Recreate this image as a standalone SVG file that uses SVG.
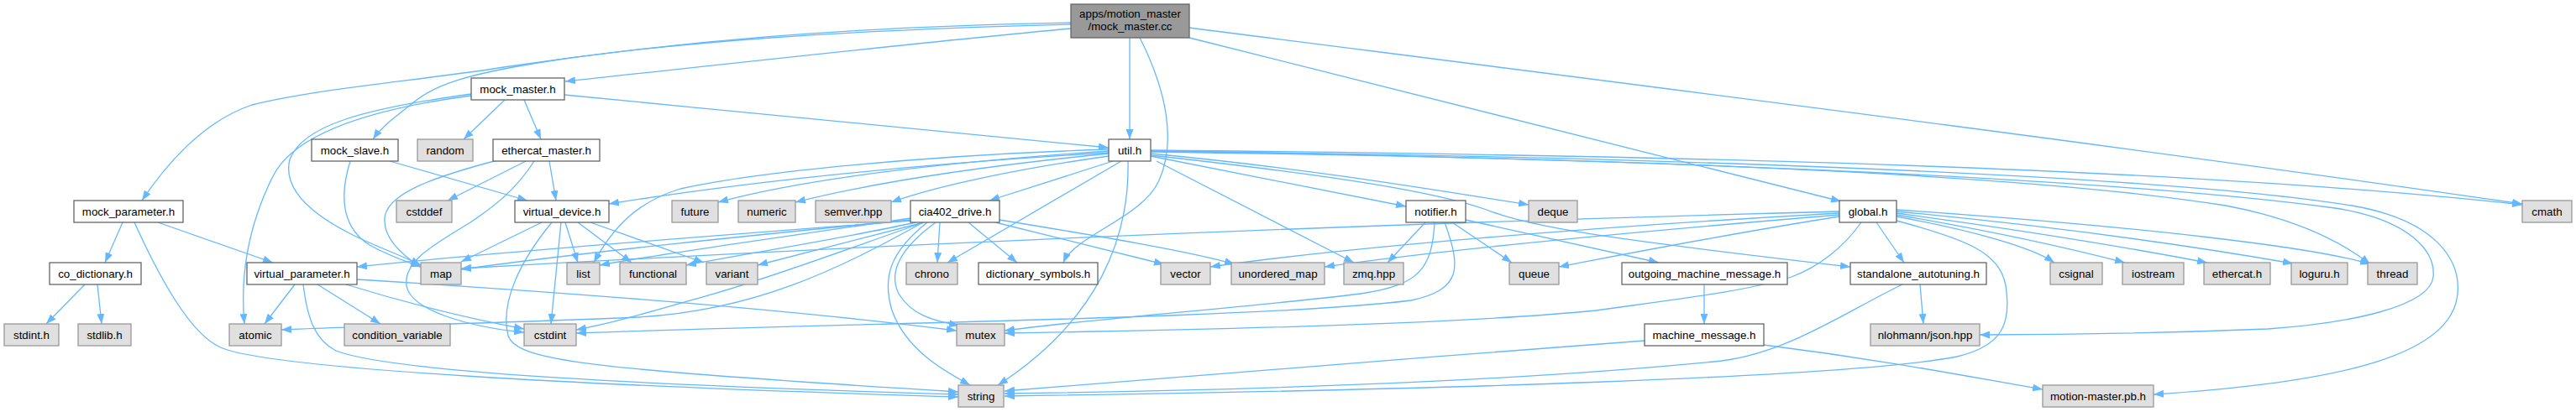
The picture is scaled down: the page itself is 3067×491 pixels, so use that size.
<svg xmlns="http://www.w3.org/2000/svg" width="3067" height="491" viewBox="0 0 3067 491">
<style>
.e{fill:none;stroke:#63b8ff;stroke-width:1.3}
.n rect{fill:#ffffff;stroke:#666666;stroke-width:1.3}
.g rect{fill:#e0e0e0;stroke:#999999;stroke-width:1.3}
.r rect{fill:#999999;stroke:#666666;stroke-width:1.3}
text{font-family:"Liberation Sans",Arial,Helvetica,sans-serif;font-size:13.33px;fill:#000000;text-anchor:middle}
</style>
<defs>
<marker id="a" markerWidth="12" markerHeight="9" refX="12" refY="4.5" orient="auto" markerUnits="userSpaceOnUse">
<path d="M0,0L12,4.5L0,9z" fill="#63b8ff"/>
</marker>
</defs>
<rect width="3067" height="491" fill="#ffffff"/>
<g id="connectors">
<path class="e" marker-end="url(#a)" d="M1275,34 C1100,50 850,78 673,97"/>
<path class="e" marker-end="url(#a)" d="M1275,27 C1000,32 800,50 600,80 C500,96 380,105 300,125 C240,145 195,200 169,239"/>
<path class="e" marker-end="url(#a)" d="M1275,29 C1000,36 800,50 640,75 C560,88 520,100 495,120 C470,140 455,150 444,166"/>
<path class="e" marker-end="url(#a)" d="M1345,45 L1345,166"/>
<path class="e" marker-end="url(#a)" d="M1357,45 C1390,110 1400,170 1380,215 C1360,260 1280,280 1266,313"/>
<path class="e" marker-end="url(#a)" d="M1416,45 C1700,115 1950,178 2192,240"/>
<path class="e" marker-end="url(#a)" d="M1416,33 C1900,95 2500,170 3003,243"/>
<path class="e" marker-end="url(#a)" d="M601,119 L552,166"/>
<path class="e" marker-end="url(#a)" d="M624,119 L644,166"/>
<path class="e" marker-end="url(#a)" d="M672,113 C900,135 1150,160 1320,176"/>
<path class="e" marker-end="url(#a)" d="M561,112 C430,130 360,150 345,190 C335,230 380,260 420,280 C450,295 480,305 501,316"/>
<path class="e" marker-end="url(#a)" d="M561,114 C440,130 350,160 325,210 C300,260 285,320 291,386"/>
<path class="e" marker-end="url(#a)" d="M417,192 C405,230 405,270 440,292 C465,306 485,312 501,318"/>
<path class="e" marker-end="url(#a)" d="M464,192 L628,239"/>
<path class="e" marker-end="url(#a)" d="M626,192 L533,239"/>
<path class="e" marker-end="url(#a)" d="M654,192 L662,239"/>
<path class="e" marker-end="url(#a)" d="M592,191 C520,210 460,230 458,260 C456,285 480,305 502,319"/>
<path class="e" marker-end="url(#a)" d="M636,192 C615,225 590,245 560,265 C520,290 480,310 484,340 C488,370 560,390 624,396"/>
<path class="e" marker-end="url(#a)" d="M146,265 L125,313"/>
<path class="e" marker-end="url(#a)" d="M188,265 L325,313"/>
<path class="e" marker-end="url(#a)" d="M160,265 C185,320 225,400 265,415 C330,440 700,460 1141,473"/>
<path class="e" marker-end="url(#a)" d="M101,339 L55,386"/>
<path class="e" marker-end="url(#a)" d="M116,339 L121,386"/>
<path class="e" marker-end="url(#a)" d="M351,339 L315,386"/>
<path class="e" marker-end="url(#a)" d="M378,339 L453,386"/>
<path class="e" marker-end="url(#a)" d="M412,339 C480,360 560,380 624,392"/>
<path class="e" marker-end="url(#a)" d="M425,333 C700,350 950,370 1139,394"/>
<path class="e" marker-end="url(#a)" d="M361,339 C366,380 375,405 400,418 C470,445 800,460 1141,470"/>
<path class="e" marker-end="url(#a)" d="M645,265 L549,312"/>
<path class="e" marker-end="url(#a)" d="M673,265 L688,313"/>
<path class="e" marker-end="url(#a)" d="M688,265 L752,313"/>
<path class="e" marker-end="url(#a)" d="M703,265 L838,313"/>
<path class="e" marker-end="url(#a)" d="M668,265 L656,386"/>
<path class="e" marker-end="url(#a)" d="M657,265 C620,310 595,360 605,400 C615,430 700,440 1141,467"/>
<path class="e" marker-end="url(#a)" d="M1320,182 C1100,195 900,215 725,243"/>
<path class="e" marker-end="url(#a)" d="M1320,180 C1100,195 950,215 855,241"/>
<path class="e" marker-end="url(#a)" d="M1320,183 C1150,200 1030,220 947,241"/>
<path class="e" marker-end="url(#a)" d="M1320,186 C1220,200 1120,220 1061,241"/>
<path class="e" marker-end="url(#a)" d="M1325,192 L1178,239"/>
<path class="e" marker-end="url(#a)" d="M1320,178 C1100,185 900,205 810,225 C760,240 730,270 707,313"/>
<path class="e" marker-end="url(#a)" d="M1335,192 L1128,313"/>
<path class="e" marker-end="url(#a)" d="M1343,192 C1345,280 1310,380 1188,459"/>
<path class="e" marker-end="url(#a)" d="M1377,192 L1612,313"/>
<path class="e" marker-end="url(#a)" d="M1370,186 L1674,246"/>
<path class="e" marker-end="url(#a)" d="M1370,183 C1550,200 1700,225 1820,244"/>
<path class="e" marker-end="url(#a)" d="M1370,185 C1550,205 1700,225 1770,250 C1820,270 1900,283 2203,318"/>
<path class="e" marker-end="url(#a)" d="M1370,179 C2000,185 2600,200 3003,244"/>
<path class="e" marker-end="url(#a)" d="M1370,181 C1900,188 2400,205 2650,245 C2740,262 2790,290 2822,315"/>
<path class="e" marker-end="url(#a)" d="M1370,180 C1900,188 2500,210 2780,248 C2870,262 2900,300 2897,330 C2893,365 2800,385 2700,392 C2550,398 2420,399 2357,399"/>
<path class="e" marker-end="url(#a)" d="M1370,180 C1900,186 2550,205 2800,245 C2900,262 2930,310 2926,350 C2920,420 2800,455 2564,470"/>
<path class="e" marker-end="url(#a)" d="M1084,260 C950,280 800,300 714,316"/>
<path class="e" marker-end="url(#a)" d="M1090,265 C1000,285 900,300 817,316"/>
<path class="e" marker-end="url(#a)" d="M1100,265 L902,316"/>
<path class="e" marker-end="url(#a)" d="M1084,262 C900,280 700,300 549,321"/>
<path class="e" marker-end="url(#a)" d="M1084,263 C800,285 600,300 425,318"/>
<path class="e" marker-end="url(#a)" d="M1099,265 C1000,320 900,370 760,378 C600,385 450,388 335,393"/>
<path class="e" marker-end="url(#a)" d="M1100,265 C1000,300 920,330 850,350 C780,370 730,385 686,393"/>
<path class="e" marker-end="url(#a)" d="M1114,265 C1080,290 1055,320 1070,350 C1085,375 1110,382 1142,388"/>
<path class="e" marker-end="url(#a)" d="M1104,265 C1060,300 1050,330 1062,370 C1080,420 1130,445 1155,459"/>
<path class="e" marker-end="url(#a)" d="M1119,265 L1116,313"/>
<path class="e" marker-end="url(#a)" d="M1153,265 L1211,313"/>
<path class="e" marker-end="url(#a)" d="M1185,265 L1386,315"/>
<path class="e" marker-end="url(#a)" d="M1190,262 C1300,280 1420,300 1470,315"/>
<path class="e" marker-end="url(#a)" d="M1697,265 L1652,313"/>
<path class="e" marker-end="url(#a)" d="M1729,265 L1800,313"/>
<path class="e" marker-end="url(#a)" d="M1745,262 L1975,313"/>
<path class="e" marker-end="url(#a)" d="M1708,265 C1705,320 1690,340 1620,350 C1500,365 1300,380 1196,394"/>
<path class="e" marker-end="url(#a)" d="M1720,265 C1740,320 1740,345 1680,358 C1500,380 1000,385 686,397"/>
<path class="e" marker-end="url(#a)" d="M2190,252 C1500,270 900,300 549,320"/>
<path class="e" marker-end="url(#a)" d="M2190,254 C1900,270 1600,295 1441,318"/>
<path class="e" marker-end="url(#a)" d="M2190,256 C1900,280 1700,300 1577,318"/>
<path class="e" marker-end="url(#a)" d="M2190,258 C2050,280 1950,300 1856,318"/>
<path class="e" marker-end="url(#a)" d="M2216,265 C2195,295 2165,318 2133,330 C2080,347 2000,356 1900,370 C1750,385 1450,393 1196,397"/>
<path class="e" marker-end="url(#a)" d="M2234,265 L2267,313"/>
<path class="e" marker-end="url(#a)" d="M2258,258 C2350,275 2420,295 2446,313"/>
<path class="e" marker-end="url(#a)" d="M2258,256 C2400,280 2480,300 2530,313"/>
<path class="e" marker-end="url(#a)" d="M2258,254 C2450,280 2560,300 2628,313"/>
<path class="e" marker-end="url(#a)" d="M2258,252 C2500,275 2650,300 2730,314"/>
<path class="e" marker-end="url(#a)" d="M2258,250 C2550,270 2760,295 2822,315"/>
<path class="e" marker-end="url(#a)" d="M2258,263 C2340,285 2380,300 2388,340 C2395,385 2385,412 2330,425 C2200,450 1700,465 1196,472"/>
<path class="e" marker-end="url(#a)" d="M2286,339 L2290,386"/>
<path class="e" marker-end="url(#a)" d="M2265,339 C2200,370 2130,420 2050,430 C1800,455 1500,465 1196,469"/>
<path class="e" marker-end="url(#a)" d="M2029,339 L2029,386"/>
<path class="e" marker-end="url(#a)" d="M1958,406 C1700,425 1400,450 1196,466"/>
<path class="e" marker-end="url(#a)" d="M2100,411 C2250,430 2350,450 2432,464"/>
</g>
<g id="n_mock_master_cc" class="r"><rect x="1275" y="5" width="141" height="40"/><text x="1345.5" y="21">apps/motion_master</text><text x="1345.5" y="36">/mock_master.cc</text></g>
<g id="n_mock_master_h" class="n"><rect x="561" y="93" width="111" height="26"/><text x="616.5" y="110.5">mock_master.h</text></g>
<g id="n_mock_slave_h" class="n"><rect x="371" y="166" width="103" height="26"/><text x="422.5" y="183.5">mock_slave.h</text></g>
<g id="n_random" class="g"><rect x="497" y="166" width="66" height="26"/><text x="530" y="183.5">random</text></g>
<g id="n_ethercat_master_h" class="n"><rect x="587" y="166" width="127" height="26"/><text x="650.5" y="183.5">ethercat_master.h</text></g>
<g id="n_util_h" class="n"><rect x="1320" y="166" width="50" height="26"/><text x="1345" y="183.5">util.h</text></g>
<g id="n_mock_parameter_h" class="n"><rect x="88" y="239" width="130" height="26"/><text x="153" y="256.5">mock_parameter.h</text></g>
<g id="n_cstddef" class="g"><rect x="472" y="239" width="66" height="26"/><text x="505" y="256.5">cstddef</text></g>
<g id="n_virtual_device_h" class="n"><rect x="613" y="239" width="112" height="26"/><text x="669" y="256.5">virtual_device.h</text></g>
<g id="n_future" class="g"><rect x="800" y="239" width="55" height="26"/><text x="827.5" y="256.5">future</text></g>
<g id="n_numeric" class="g"><rect x="879" y="239" width="68" height="26"/><text x="913" y="256.5">numeric</text></g>
<g id="n_semver_hpp" class="g"><rect x="971" y="239" width="90" height="26"/><text x="1016" y="256.5">semver.hpp</text></g>
<g id="n_cia402_drive_h" class="n"><rect x="1084" y="239" width="106" height="26"/><text x="1137" y="256.5">cia402_drive.h</text></g>
<g id="n_notifier_h" class="n"><rect x="1674" y="239" width="71" height="26"/><text x="1709.5" y="256.5">notifier.h</text></g>
<g id="n_deque" class="g"><rect x="1820" y="239" width="58" height="26"/><text x="1849" y="256.5">deque</text></g>
<g id="n_global_h" class="n"><rect x="2190" y="239" width="68" height="26"/><text x="2224" y="256.5">global.h</text></g>
<g id="n_cmath" class="g"><rect x="3003" y="239" width="59" height="26"/><text x="3032.5" y="256.5">cmath</text></g>
<g id="n_co_dictionary_h" class="n"><rect x="59" y="313" width="109" height="26"/><text x="113.5" y="330.5">co_dictionary.h</text></g>
<g id="n_virtual_parameter_h" class="n"><rect x="294" y="313" width="131" height="26"/><text x="359.5" y="330.5">virtual_parameter.h</text></g>
<g id="n_map" class="g"><rect x="501" y="313" width="48" height="26"/><text x="525" y="330.5">map</text></g>
<g id="n_list" class="g"><rect x="675" y="313" width="39" height="26"/><text x="694.5" y="330.5">list</text></g>
<g id="n_functional" class="g"><rect x="738" y="313" width="79" height="26"/><text x="777.5" y="330.5">functional</text></g>
<g id="n_variant" class="g"><rect x="841" y="313" width="61" height="26"/><text x="871.5" y="330.5">variant</text></g>
<g id="n_chrono" class="g"><rect x="1079" y="313" width="61" height="26"/><text x="1109.5" y="330.5">chrono</text></g>
<g id="n_dictionary_symbols_h" class="n"><rect x="1165" y="313" width="142" height="26"/><text x="1236" y="330.5">dictionary_symbols.h</text></g>
<g id="n_vector" class="g"><rect x="1382" y="313" width="59" height="26"/><text x="1411.5" y="330.5">vector</text></g>
<g id="n_unordered_map" class="g"><rect x="1466" y="313" width="111" height="26"/><text x="1521.5" y="330.5">unordered_map</text></g>
<g id="n_zmq_hpp" class="g"><rect x="1600" y="313" width="71" height="26"/><text x="1635.5" y="330.5">zmq.hpp</text></g>
<g id="n_queue" class="g"><rect x="1797" y="313" width="59" height="26"/><text x="1826.5" y="330.5">queue</text></g>
<g id="n_outgoing_machine_message_h" class="n"><rect x="1931" y="313" width="197" height="26"/><text x="2029.5" y="330.5">outgoing_machine_message.h</text></g>
<g id="n_standalone_autotuning_h" class="n"><rect x="2203" y="313" width="162" height="26"/><text x="2284" y="330.5">standalone_autotuning.h</text></g>
<g id="n_csignal" class="g"><rect x="2441" y="313" width="62" height="26"/><text x="2472" y="330.5">csignal</text></g>
<g id="n_iostream" class="g"><rect x="2527" y="313" width="73" height="26"/><text x="2563.5" y="330.5">iostream</text></g>
<g id="n_ethercat_h" class="g"><rect x="2624" y="313" width="79" height="26"/><text x="2663.5" y="330.5">ethercat.h</text></g>
<g id="n_loguru_h" class="g"><rect x="2728" y="313" width="67" height="26"/><text x="2761.5" y="330.5">loguru.h</text></g>
<g id="n_thread" class="g"><rect x="2819" y="313" width="59" height="26"/><text x="2848.5" y="330.5">thread</text></g>
<g id="n_stdint_h" class="g"><rect x="5" y="386" width="65" height="26"/><text x="37.5" y="403.5">stdint.h</text></g>
<g id="n_stdlib_h" class="g"><rect x="93" y="386" width="63" height="26"/><text x="124.5" y="403.5">stdlib.h</text></g>
<g id="n_atomic" class="g"><rect x="273" y="386" width="62" height="26"/><text x="304" y="403.5">atomic</text></g>
<g id="n_condition_variable" class="g"><rect x="410" y="386" width="126" height="26"/><text x="473" y="403.5">condition_variable</text></g>
<g id="n_cstdint" class="g"><rect x="624" y="386" width="62" height="26"/><text x="655" y="403.5">cstdint</text></g>
<g id="n_mutex" class="g"><rect x="1139" y="386" width="57" height="26"/><text x="1167.5" y="403.5">mutex</text></g>
<g id="n_machine_message_h" class="n"><rect x="1958" y="386" width="142" height="26"/><text x="2029" y="403.5">machine_message.h</text></g>
<g id="n_nlohmann_json_hpp" class="g"><rect x="2227" y="386" width="130" height="26"/><text x="2292" y="403.5">nlohmann/json.hpp</text></g>
<g id="n_string" class="g"><rect x="1141" y="459" width="54" height="26"/><text x="1168" y="476.5">string</text></g>
<g id="n_motion_master_pb_h" class="g"><rect x="2432" y="459" width="132" height="26"/><text x="2498" y="476.5">motion-master.pb.h</text></g>
</svg>
